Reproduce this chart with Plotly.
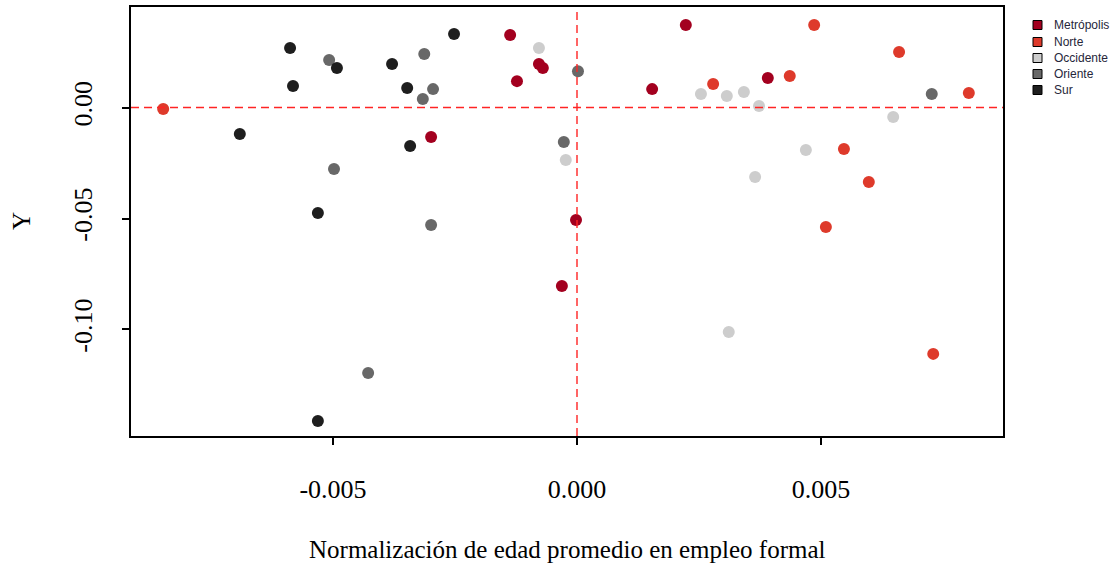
import plotly.graph_objects as go

regions = ["Metrópolis", "Norte", "Occidente", "Oriente", "Sur"]
colors = ["#A3001F", "#DE3A2B", "#CDCDCD", "#686868", "#1E1E1E"]

metropolis_x = [0.00223, -0.00137, -0.00078, -0.00070, -0.00123, 0.00154, 0.00391, -0.00299, -0.00002, -0.00031]
metropolis_y = [0.0372, 0.0327, 0.0196, 0.0178, 0.0119, 0.0083, 0.0133, -0.0133, -0.0507, -0.0804]

norte_x = [-0.00848, 0.00486, 0.00660, 0.00279, 0.00436, 0.00803, 0.00547, 0.00598, 0.00510, 0.00730]
norte_y = [-0.0007, 0.0372, 0.0250, 0.0106, 0.0142, 0.0065, -0.0187, -0.0336, -0.0538, -0.1110]

occidente_x = [-0.00078, -0.00023, 0.00254, 0.00307, 0.00342, 0.00373, 0.00648, 0.00469, 0.00365, 0.00311]
occidente_y = [0.0268, -0.0236, 0.0061, 0.0052, 0.0070, 0.0007, -0.0043, -0.0191, -0.0313, -0.1011]

oriente_x = [-0.00508, -0.00313, -0.00295, -0.00316, -0.00498, 0.00002, -0.00027, -0.00299, -0.00428, 0.00727]
oriente_y = [0.0214, 0.0241, 0.0083, 0.0038, -0.0277, 0.0164, -0.0155, -0.0529, -0.1196, 0.0061]

sur_x = [-0.00588, -0.00492, -0.00379, -0.00582, -0.00348, -0.00691, -0.00342, -0.00252, -0.00531, -0.00531]
sur_y = [0.0268, 0.0178, 0.0196, 0.0097, 0.0088, -0.0119, -0.0173, 0.0331, -0.0475, -0.1412]

xs = [metropolis_x, norte_x, occidente_x, oriente_x, sur_x]
ys = [metropolis_y, norte_y, occidente_y, oriente_y, sur_y]

x_ticks = [-0.005, 0.0, 0.005]
x_ticklabels = ["-0.005", "0.000", "0.005"]
y_ticks = [0.0, -0.05, -0.10]
y_ticklabels = ["0.00", "-0.05", "-0.10"]

# plot-area geometry in pixels
L, R, T, B = 131, 1003, 7, 436
W, H = R - L, B - T


def px(xp):
    return (xp - L) / W


def py(yp):
    return (B - yp) / H


fig = go.Figure()
for name, c, x, y in zip(regions, colors, xs, ys):
    fig.add_trace(go.Scatter(x=x, y=y, mode="markers", name=name, showlegend=False,
                             marker=dict(color=c, size=12, line=dict(width=0))))

fig.add_shape(type="line", xref="x", yref="paper", x0=0, x1=0, y0=0, y1=1,
              line=dict(color="#FF2424", width=1.4, dash="8px,5px"), layer="above")
fig.add_shape(type="line", xref="paper", yref="y", x0=0, x1=1, y0=0, y1=0,
              line=dict(color="#FF2424", width=1.4, dash="8px,5px"), layer="above")

sans = "Liberation Sans, Arial, sans-serif"
serif = "Liberation Serif, Times New Roman, serif"
annotations = []
legend_y = [25, 42, 58, 74, 90]
for name, c, ly in zip(regions, colors, legend_y):
    fig.add_shape(type="rect", xref="paper", yref="paper",
                  x0=px(1033), x1=px(1042), y0=py(ly + 4.5), y1=py(ly - 4.5),
                  fillcolor=c, line=dict(color="black", width=1))
    annotations.append(dict(text=name, x=px(1052), y=py(ly), xref="paper", yref="paper",
                            showarrow=False, xanchor="left", yanchor="middle",
                            font=dict(family=sans, size=12, color="#26263A")))

annotations.append(dict(text="Y", x=px(21), y=py(221), xref="paper", yref="paper",
                        showarrow=False, font=dict(family=serif, size=25), textangle=-90,
                        xanchor="center", yanchor="middle"))
annotations.append(dict(text="Normalización de edad promedio en empleo formal",
                        x=px(567), y=py(549), xref="paper", yref="paper", showarrow=False,
                        font=dict(family=serif, size=25), xanchor="center", yanchor="middle"))

fig.update_layout(
    width=1117, height=564,
    margin=dict(l=L, r=1117 - R, t=T, b=564 - B, autoexpand=False),
    paper_bgcolor="white", plot_bgcolor="white",
    font=dict(family=serif, color="black"),
    showlegend=False,
    annotations=annotations,
)

fig.update_xaxes(range=[-0.00914, 0.00873], showgrid=False, zeroline=False,
                 showline=True, linecolor="black", linewidth=1.5, mirror=True,
                 ticks="outside", ticklen=7, tickcolor="black", tickwidth=1.5,
                 tickvals=x_ticks, ticktext=x_ticklabels, ticklabelstandoff=22,
                 tickfont=dict(family=serif, size=26))
fig.update_yaxes(range=[-0.148, 0.0453], showgrid=False, zeroline=False,
                 showline=True, linecolor="black", linewidth=1.5, mirror=True,
                 ticks="outside", ticklen=7, tickcolor="black", tickwidth=1.5,
                 tickvals=y_ticks, ticktext=y_ticklabels, tickangle=-90, ticklabelstandoff=20,
                 tickfont=dict(family=serif, size=26))

fig.write_html("out.html")
